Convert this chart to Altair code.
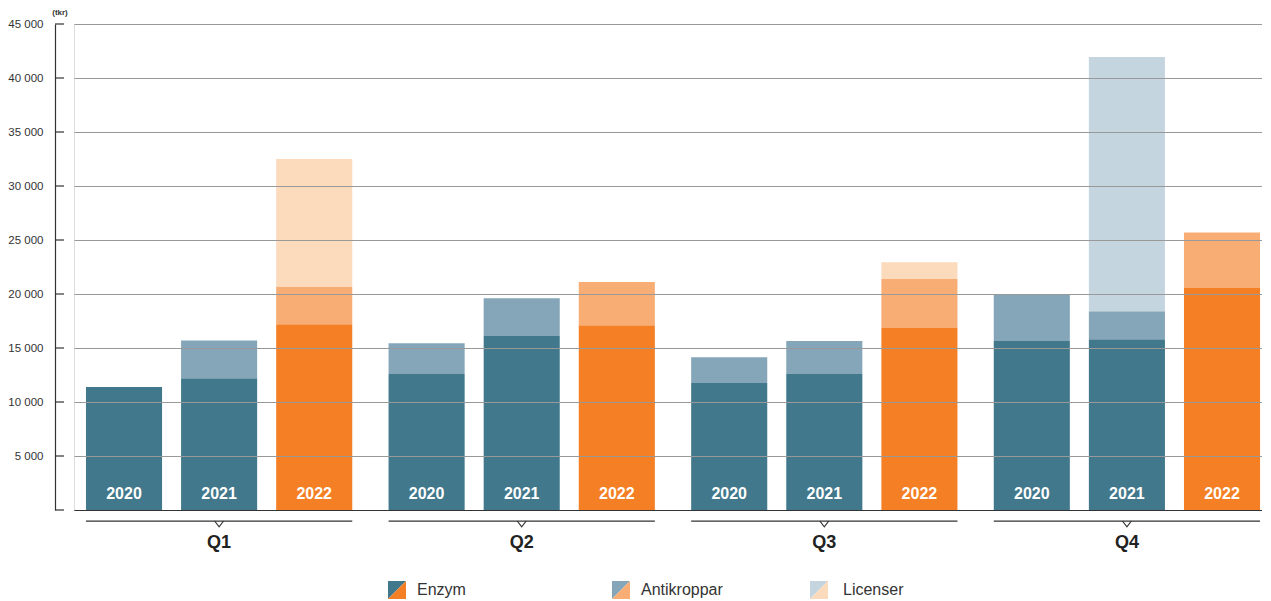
import altair as alt
import pandas as pd

quarters = ["Q1", "Q2", "Q3", "Q4"]
years = ["2020", "2021", "2022"]
categories = ["Enzym", "Antikroppar", "Licenser"]
# values per (quarter, year), in tkr
enzym = [11400, 12200, 17200, 12600, 16100, 17100, 11750, 12600, 16850, 15650, 15800, 20550]
antikroppar = [0, 3500, 3500, 2850, 3500, 4000, 2400, 3050, 4550, 4250, 2600, 5150]
licenser = [0, 0, 11800, 0, 0, 0, 0, 0, 1550, 0, 23550, 0]
y_ticks = [0, 5000, 10000, 15000, 20000, 25000, 30000, 35000, 40000, 45000]

teal = ["#41788c", "#84a6b8", "#c5d5e0"]
orange = ["#f47f24", "#f7ad74", "#fcdabc"]

rows = []
pairs = [(q, y) for q in quarters for y in years]
for i, (q, y) in enumerate(pairs):
    for k, (cat, vals) in enumerate(zip(categories, [enzym, antikroppar, licenser])):
        tone = "o" if y == "2022" else "t"
        rows.append(dict(q=q, year=y, cat=cat, v=vals[i], ord=k, key=f"{cat}_{tone}"))
df = pd.DataFrame(rows)
df_lab = pd.DataFrame([dict(q=q, year=y) for q, y in pairs])
df_q = pd.DataFrame({"q": quarters})
df_ticks = pd.DataFrame({"t": y_ticks})
one = pd.DataFrame({"a": [0]})

FONT = "Liberation Sans"

xscale = alt.Scale(domain=quarters, paddingInner=0.12, paddingOuter=0.023, align=0.86)
offscale = alt.Scale(domain=years, paddingInner=0.2, paddingOuter=0)
yscale = alt.Scale(domain=[0, 45000], nice=False)
cscale = alt.Scale(
    domain=[f"{c}_t" for c in categories] + [f"{c}_o" for c in categories],
    range=teal + orange,
)

xaxis = alt.Axis(
    title=None, labelAngle=0, ticks=False, tickSize=0, labelPadding=23,
    labelFontSize=18, labelFontWeight="bold", labelColor="#222", labelFont=FONT,
    domainColor="#333", domainWidth=1.2, grid=False, zindex=1,
)
yaxis = alt.Axis(
    values=y_ticks, title=None, offset=19, ticks=False, tickSize=0, labelPadding=12,
    labelExpr="datum.value == 0 ? '' : replace(format(datum.value, ','), ',', ' ')",
    labelFontSize=11.5, labelColor="#333", labelFont=FONT,
    domainColor="#333", domainWidth=1.2,
    grid=True, gridColor="#999999", gridWidth=1.2, zindex=1,
)

bars = alt.Chart(df).mark_bar().encode(
    x=alt.X("q:N", scale=xscale, axis=xaxis),
    xOffset=alt.XOffset("year:N", scale=offscale),
    y=alt.Y("v:Q", scale=yscale, axis=yaxis, stack="zero"),
    color=alt.Color("key:N", scale=cscale, legend=None),
    order=alt.Order("ord:Q"),
)

year_labels = alt.Chart(df_lab).mark_text(
    color="white", fontSize=16, fontWeight="bold", baseline="middle", dy=-16, font=FONT
).encode(
    x=alt.X("q:N", scale=xscale),
    xOffset=alt.XOffset("year:N", scale=offscale),
    y=alt.datum(0),
    text="year:N",
)

bracket = alt.Chart(df_q).mark_bar(color="#333").encode(
    x=alt.X("q:N", scale=xscale),
    y=alt.value(496.4),
    y2=alt.value(497.7),
)
notch = alt.Chart(df_q).mark_point(
    shape="M -1 -1 L 0 0.3 L 1 -1", filled=False, color="#333",
    strokeWidth=1.2, size=81, opacity=1,
).encode(
    x=alt.X("q:N", scale=xscale),
    y=alt.value(501.5),
)

tick_rules = alt.Chart(df_ticks).mark_rule(color="#333", strokeWidth=1.2).encode(
    y=alt.Y("t:Q", scale=yscale),
    x=alt.value(-19),
    x2=alt.value(-10),
)

tkr = alt.Chart(one).mark_text(
    text="(tkr)", fontSize=8, fontWeight="bold", color="#333", font=FONT, baseline="middle"
).encode(x=alt.value(-14), y=alt.value(-11))

UL = "M -1 -1 L 1 -1 L -1 1 Z"
LR = "M 1 -1 L 1 1 L -1 1 Z"
leg_sq_x = [323, 547, 745]
leg_tx_x = [343, 567, 769]
leg_y = 566
legend_layers = []
for i, cat in enumerate(categories):
    legend_layers.append(
        alt.Chart(one).mark_point(shape=UL, filled=True, size=324, color=teal[i],
                                  opacity=1, strokeWidth=0)
        .encode(x=alt.value(leg_sq_x[i]), y=alt.value(leg_y))
    )
    legend_layers.append(
        alt.Chart(one).mark_point(shape=LR, filled=True, size=324, color=orange[i],
                                  opacity=1, strokeWidth=0)
        .encode(x=alt.value(leg_sq_x[i]), y=alt.value(leg_y))
    )
    legend_layers.append(
        alt.Chart(one).mark_text(text=cat, fontSize=16, color="#333", font=FONT,
                                 align="left", baseline="middle")
        .encode(x=alt.value(leg_tx_x[i]), y=alt.value(leg_y))
    )

chart = alt.layer(
    bars, year_labels, bracket, notch, tick_rules, tkr, *legend_layers
).properties(
    width=1188, height=486,
    autosize=alt.AutoSizeParams(type="none"),
    padding={"left": 66, "top": 16, "right": 0, "bottom": 90},
    background="white",
).configure_view(stroke=None).configure(font=FONT)

chart.save("out.html", embed_options={"renderer": "svg", "actions": False})
